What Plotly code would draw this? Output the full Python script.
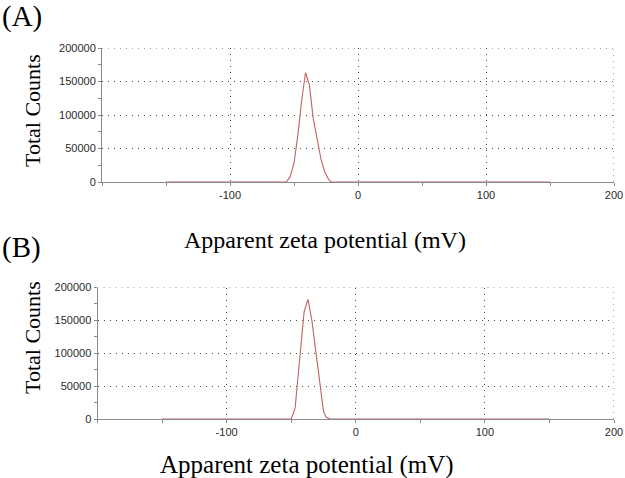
import plotly.graph_objects as go

# Panel A data (apparent zeta potential in mV, total counts)
zeta_a = [-150, -56, -53, -50, -47, -44, -41, -38, -35, -32, -29, -26, -23, -21, 150]
counts_a = [0, 0, 8000, 28000, 70000, 122000, 163000, 145000, 95000, 62000, 35000, 15000, 4000, 0, 0]

# Panel B data
zeta_b = [-150, -50, -47, -45, -43, -40, -37, -34, -31, -28, -25, -23, -20, 150]
counts_b = [0, 0, 16000, 55000, 103000, 163000, 182000, 150000, 104000, 56000, 12000, 3000, 0, 0]

x_range = [-200, 200]
y_range = [0, 200000]
x_tickvals = [-100, 0, 100, 200]
x_ticktext = ["-100", "0", "100", "200"]
y_tickvals = [0, 50000, 100000, 150000, 200000]
y_ticktext = ["0", "50000", "100000", "150000", "200000"]

panel_labels = ["(A)", "(B)"]
x_title = "Apparent zeta potential (mV)"
y_title = "Total Counts"

W, H = 625, 478
line_color = "#c26262"
grid_color = "#4a4a4a"
axis_color = "#8a8a8a"
tick_font = dict(family="Liberation Sans, Arial", size=11, color="#2a2a2a")
serif = "Liberation Serif, Times New Roman, serif"
grid_dash = "1px,5px"

fig = go.Figure()
fig.add_trace(go.Scatter(x=zeta_a, y=counts_a, mode="lines",
                         line=dict(color=line_color, width=1.1),
                         xaxis="x", yaxis="y", showlegend=False))
fig.add_trace(go.Scatter(x=zeta_b, y=counts_b, mode="lines",
                         line=dict(color=line_color, width=1.1),
                         xaxis="x2", yaxis="y2", showlegend=False))


def xaxis_cfg(dom, anchor):
    return dict(domain=dom, anchor=anchor, range=x_range, automargin=False,
                tickvals=x_tickvals, ticktext=x_ticktext, tickfont=tick_font,
                showline=True, linecolor=axis_color, linewidth=1,
                ticks="outside", ticklen=3, tickcolor=axis_color,
                minor=dict(dtick=50, tick0=0, ticks="outside", ticklen=3,
                           tickcolor=axis_color, showgrid=False),
                showgrid=True, gridcolor=grid_color, gridwidth=1, griddash=grid_dash,
                zeroline=False, fixedrange=True)


def yaxis_cfg(dom, anchor):
    return dict(domain=dom, anchor=anchor, range=y_range, automargin=False,
                tickvals=y_tickvals, ticktext=y_ticktext, tickfont=tick_font,
                showline=True, linecolor=axis_color, linewidth=1,
                ticks="outside", ticklen=3, tickcolor=axis_color,
                minor=dict(dtick=25000, tick0=0, ticks="outside", ticklen=3,
                           tickcolor=axis_color, showgrid=False),
                showgrid=True, gridcolor=grid_color, gridwidth=1, griddash=grid_dash,
                zeroline=False, fixedrange=True)


fig.update_layout(
    width=W, height=H, autosize=False,
    margin=dict(l=0, r=0, t=0, b=0, pad=0),
    paper_bgcolor="white", plot_bgcolor="white",
    xaxis=xaxis_cfg([102 / W, 614 / W], "y"),
    yaxis=yaxis_cfg([1 - 182 / H, 1 - 48 / H], "x"),
    xaxis2=xaxis_cfg([97.5 / W, 614 / W], "y2"),
    yaxis2=yaxis_cfg([1 - 419 / H, 1 - 287.5 / H], "x2"),
)

# dotted top and right border grid lines (at range ends)
shapes = []
for xr, yr in (("x", "y"), ("x2", "y2")):
    shapes.append(dict(type="line", xref=xr, yref=yr, x0=x_range[0], x1=x_range[1],
                       y0=y_range[1], y1=y_range[1],
                       line=dict(color=grid_color, width=1, dash=grid_dash)))
    shapes.append(dict(type="line", xref=xr, yref=yr, x0=x_range[1], x1=x_range[1],
                       y0=y_range[0], y1=y_range[1],
                       line=dict(color=grid_color, width=1, dash=grid_dash)))
fig.update_layout(shapes=shapes)

annos = [
    dict(text=panel_labels[0], x=0, y=1 - 17 / H, xanchor="left", yanchor="middle",
         font=dict(family=serif, size=29, color="black")),
    dict(text=panel_labels[1], x=0, y=1 - 247 / H, xanchor="left", yanchor="middle",
         font=dict(family=serif, size=29, color="black")),
    dict(text=x_title, x=325 / W, y=1 - 240 / H, xanchor="center", yanchor="middle",
         font=dict(family=serif, size=24, color="black")),
    dict(text=x_title, x=307 / W, y=1 - 465 / H, xanchor="center", yanchor="middle",
         font=dict(family=serif, size=25, color="black")),
    dict(text=y_title, x=32.5 / W, y=1 - 110.5 / H, xanchor="center", yanchor="middle",
         textangle=-90, font=dict(family=serif, size=22, color="black")),
    dict(text=y_title, x=32.5 / W, y=1 - 337.5 / H, xanchor="center", yanchor="middle",
         textangle=-90, font=dict(family=serif, size=22, color="black")),
]
for a in annos:
    a.update(xref="paper", yref="paper", showarrow=False)
fig.update_layout(annotations=annos)

fig.write_html("out.html", config={"displayModeBar": False},
               post_script="document.body.style.margin='0';document.body.style.overflow='hidden';")
